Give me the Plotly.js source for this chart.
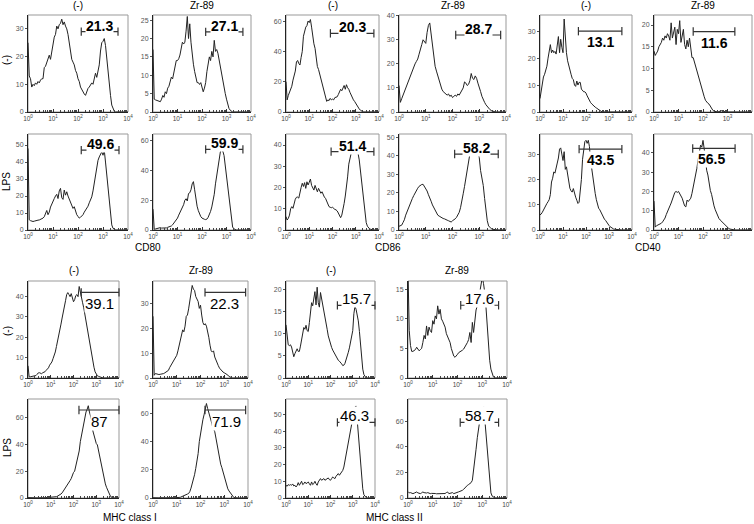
<!DOCTYPE html>
<html><head><meta charset="utf-8">
<script src="https://cdn.plot.ly/plotly-3.0.1.min.js"></script>
<style>html,body{margin:0;padding:0;background:#fff;}#chart{width:754px;height:524px;}</style>
</head><body><div id="chart"></div>
<script>
// ---------- histogram counts, one value per 0.05-decade channel from 10^0 to 10^4 ----------
const cd80_ctrl_neg = [25,13,12,9,10,9.5,10.5,10,11,10.5, 11.5,12,12,16,16.5,18,19,20.5,19,22, 24,27,28,31,30,31.5,32,33.5,31.5,32.5, 31,30,28,25,22,19,18,17,15,14, 12,11,9,8,7,6.5,6,7.5,8.5,9, 10,10.5,10,12,14,12.5,15,17,22,25, 25.5,26.5,24,19,15,11,6,2.5,1,0.3, 0,0,0,0,0,0,0,0,0,0, 0];
const cd80_ctrl_zr = [17,3.5,3.3,3.2,3,2.9,2.8,3.5,4.5,4, 5.5,5,6.5,7,8,9.5,9,11,13,14, 14,14.5,15.5,18,19,18.5,19,22,26,20, 24,19,15,13,11,9.5,8,8,7.5,8, 7,5.5,6.5,8,11,13,15,14,16.5,15, 19.5,16.5,17,16,14,12.5,11,9,7,5, 3.5,2,1,0.5,0.2,0,0,0,0,0, 0,0,0,0,0,0,0,0,0,0, 0];
const cd86_ctrl_neg = [20,8,11,13,15,17,21,24,27,33, 34,32,31,36,40,50,53,56,57,60, 59,61,56,50,45,42,35,30,28,25, 22,19,15,12,9,7,8,7.5,9,8, 8.5,8,9.5,10,10,11.5,13,15,14,16, 17.5,15,18,16,15,13,11,9.5,8,7, 5.5,4.5,3,2,1.2,0.5,0.2,0,0,0, 0,0,0,0,0,0,0,0,0,0, 0];
const cd86_ctrl_zr = [11,4,5.5,7,8.5,9.5,11,13,14,16, 17.5,19,20,21,22,24,26.5,28,30,29, 28.5,33,36,37,32,27,23,19,17,15, 13,11,9.5,8.5,8,7.5,7,7.5,6.5,7, 6,6.5,7,6.5,7.5,7,8,8.5,10,12.5, 12,11,11.5,13,16,14,13.5,15,14,12, 10.5,8.5,6.5,5,4,3,2.2,1.5,1,0.6, 0.3,0.1,0,0,0,0,0,0,0,0, 0];
const cd40_ctrl_neg = [5,8,11,13,14,15.5,17,20,23,25, 22,23,22,22.5,21.5,26,28,22,27,24, 22,34.5,26,22,19,17,16,14,12.5,12, 10,9.5,11.5,10,11,11,8.5,8,7.5,7.5, 7,6,5,4,3.5,3,2.5,2,1.8,1.5, 1.2,0.8,0.4,0.2,0,0,0,0,0,0, 0,0,0,0,0,0,0,0,0,0, 0,0,0,0,0,0,0,0,0,0, 0];
const cd40_ctrl_zr = [14,13,13.5,14,15,15.5,16,17,16.5,17.5, 17,18,17.5,16.5,20.5,17,18,19.5,15.5,19, 18,21,16,18,19,15.5,14.5,16.5,15,17, 15,12.5,12.5,11.5,10.5,9,8,7,6,5, 4.2,3.5,2.7,2.3,2,1.8,1.2,0.8,0.4,0.2, 0.1,0,0,0.1,0.2,0.3,0.2,0.1,0,0, 0,0,0,0,0,0,0,0,0,0, 0,0,0,0,0,0,0,0,0,0, 0];
const cd80_lps_neg = [48,6,5.5,5,5,5.2,5.5,5.4,5.8,5.9, 6.2,6.5,7,7.8,9.5,11.5,9,10.5,13.5,15.5, 17.5,18.5,20,21,18.5,23,24.5,19,18,23.5, 20.5,22.5,20,18,16,14,12.7,13.7,11,9, 8,7,7.5,8,9,10.5,11.5,12.7,14,16, 18,19.5,23,28,33,38,41,43,44.5,46, 44,47,40,33,25,16,8,3,1,0.4, 0.1,0,0,0,0,0,0,0,0,0, 0];
const cd80_lps_zr = [14,0.5,0.7,1,1.3,1.5,1.6,1.3,1.2,1.1, 1.2,1.4,1.8,2,2.3,2.7,3.5,4.5,5.5,6.7, 8,10,11.5,13.4,15,17,20,21,19.5,24.5, 25,27,31,32.5,27,20,16,13,10.5,9, 8,7.3,7.2,7,7.3,8.5,10,12.5,15.5,19, 24,31,37,42,47,52.5,53.5,53,50,43, 35,27,19,12,5.5,2,0.8,0.3,0,0, 0,0,0,0,0,0,0,0,0,0, 0];
const cd86_lps_neg = [6.3,4.7,5.5,7,10,11,10.2,13,14.5,15.4, 15.5,15,18.5,20,22,20.5,22.3,19.6,22.7,21.2, 22.5,24,21,20,18.8,21,19.5,18,19.6,18, 17.3,18,16.5,15.5,14.9,13.5,12.5,11,10.7,10.5, 10.7,10,9.7,9.5,9,8,7,5.8,7,9.4, 12.5,16,19.5,25,31,34,37,38.5,40,39, 40,38.5,36,33,28,22,17,12,7,3.5, 1.8,1,0.5,0.3,0.1,0,0,0,0,0, 0];
const cd86_lps_zr = [2,2.3,2.6,4,5.5,8,10,12,13.8,15, 17,18.5,20,21.5,22.5,23.5,24.2,24.5,24.6,23.5, 22.5,21,19,17.5,15.5,13.5,12,10.5,9,8, 7.5,7,6.5,6.2,6,5.5,5.3,5,4.6,4.3, 5,5.3,6,6.8,8,9.5,12,15,19.5,23.5, 28,32.5,37,41,43,44,41,43,44,42, 39,32,28,24,17,10,5,2.2,1.2,0.7, 0.4,0.2,0,0,0,0,0,0,0,0, 0];
const cd40_lps_neg = [6,6.3,7,8,9,9.8,10.5,11.2,12,14, 19,20.5,23,22.5,24,26.5,28.5,32,32.5,30, 27.5,31,24,25,22,20,16.5,15.5,15,16.4, 14,13,11.8,10.5,11,14.5,20,28,33,35, 35.5,34.3,35.5,33,27.5,23.7,20,16.5,14.5,12, 10,8.6,8,7,5.8,5,4.3,3.8,3,2.3, 1.8,1.3,0.9,0.6,0.4,0.3,0.2,0.1,0,0, 0,0,0,0,0,0,0,0,0,0, 0];
const cd40_lps_zr = [15,1.5,2.2,2.5,2.7,3,3.5,4.2,5,6.2, 8,9.8,11.5,12.5,14,16,18,19.5,20,19.5, 20,19,17.5,16.5,14.5,12.5,12,15.5,14.8,15.5, 16.5,19,22,25.5,28.5,32,36.5,40.5,44,43, 46.5,42,35,31,28.5,23,20.5,18.5,15,12.5, 10.5,9,7.2,6,5.2,4.5,3.8,3.2,2.6,1.8, 1.2,0.8,0.5,0.3,0.1,0,0,0,0,0, 0,0,0,0,0,0,0,0,0,0, 0];
const mhc1_ctrl_neg = [6,0.6,0.6,0.7,0.8,0.9,1,1.2,1.8,2.5, 2.6,2.3,2.1,2.6,2.8,3.1,3.8,4.2,5,6.3, 7.1,7.9,9.5,11,12.8,15.5,18,20.2,23,26.5, 29.5,33,35.5,38,41,42,41,40,41.5,39.2, 37.5,38.5,40.5,41,40,45,41.6,38.5,37,34.5, 31,27.5,24,20.5,17,13.8,11,8.3,5.3,3, 1.6,1.1,0.8,0.5,0.3,0.1,0,0,0,0, 0,0,0,0,0,0,0,0,0,0, 0];
const mhc1_ctrl_zr = [25,1.1,1.8,1.6,1.4,1.4,1.5,1.5,1.6,1.8, 2.1,2.4,2.8,3.1,4.2,5,6,6.7,7.5,8.5, 9.2,11,13,14.5,17.5,19.5,18.7,21,25,25.5, 28,32,35,37.5,36,35.5,33,32,31,28.2, 29.5,25.5,22.5,21.5,22,21,19,16.5,13.3,11, 10.5,11,8.5,7,6,5,4,3.3,2.8,2.4, 2.1,1.9,1.7,1.2,0.6,0.3,0.1,0,0,0, 0,0,0,0,0,0,0,0,0,0, 0];
const mhc2_ctrl_neg = [12,9.5,7.5,7.3,7.5,7,6,4.8,5.5,6.2, 6.6,6,6,7.2,8.5,10.5,11.4,11,11.9,10.7, 10.5,12.5,15.5,17,16.3,17.8,19.5,16.5,20.5,17, 16,19.3,18,17,15.5,13.7,12.5,11,9.5,8.5, 7.5,6.9,6.3,5.8,5.4,5,4.4,4,3.8,3.6, 3.2,2.8,2.9,3.3,4,5,5.8,6.8,8,9.2, 10.7,14.5,16.2,15.5,14.5,12.9,10.5,7,4.3,2, 0.8,0.2,0,0,0,0,0,0,0,0, 0];
const mhc2_ctrl_zr = [18,8,5.5,4.5,4.5,4.6,4.8,5.2,4.8,4.6, 4.8,5,6,7.2,6.6,8.8,7.2,8.6,8,7.7, 9.7,9.1,10.5,10,12.2,10.8,11.6,10,9.6,9.2, 8.6,7.5,7,6.4,6,5,4.2,3.7,3.5,3.7, 4,4.3,4.4,4.5,4.7,4.9,5.2,5.5,6,6.5, 7.7,6,9.4,7.7,10,11.5,12.2,12.3,14.5,16, 17,16,14.5,12,8.5,5.5,3,1.5,0.6,0.2, 0,0,0,0,0,0,0,0,0,0, 0];
const mhc1_lps_neg = [0.3,0.2,0.1,0.2,0.1,0.1,0.2,0.1,0.1,0.2, 0.1,0.2,0.1,0.2,0.1,0.2,0.3,0.2,0.3,0.3, 0.4,0.3,0.5,0.6,0.8,1,1.4,1.8,2.3,3, 3.8,5,6.8,8,9.2,10.5,11.8,13,14.5,17.5, 19,20,24,27.5,30.6,35,42,47,52,57, 61,64,66,68.7,64,61,58,50,46,42, 40.6,39.5,35,30.6,26,22,18.2,14,10.5,8, 5.8,3.7,2.2,0.8,0.3,0,0,0,0,0, 0];
const mhc1_lps_zr = [0.2,0.1,0.1,0.2,0.1,0.1,0.2,0.1,0.1,0.1, 0.2,0.1,0.2,0.1,0.2,0.2,0.1,0.2,0.3,0.2, 0.3,0.3,0.4,0.5,0.8,1.2,1.6,1.9,2.3,2.8, 3.2,4.5,7,10,12.6,16.5,21,26,31.5,40, 46,52,55.5,59,63,67,63.5,61,57.7,54.5, 51,49,47,42.5,37,32.7,27.5,24,21.5,18.5, 15,11.5,8.5,6.5,5,3.8,2.5,1,0.4,0.2, 0,0,0,0,0,0,0,0,0,0, 0];
const mhc2_lps_neg = [7.6,7,8,7.6,8,7.6,8.4,7.2,7.6,6.6, 7.5,9.2,7.6,8.5,10,8,8.5,9.6,8.6,9, 9.6,8.5,7.6,9.6,8,8.6,10,8.5,7.6,9.6, 10.5,11.6,10.6,11,11.6,10.6,11.2,11.5,12,11, 10.6,11.6,12.6,12,11.6,13,13.6,14.6,13.6,14.5, 15.2,16.5,18.5,22,26,29,31.6,35,39,44, 49,53,54.5,55,47,38,28,20,12,5.5, 2,0.8,0.3,0,0,0,0,0,0,0, 0];
const mhc2_lps_zr = [5,4,4.2,3.6,3.4,3.8,4.2,4.7,4,3.6, 3.4,4,4.7,4.2,3.8,3.9,4.2,3.6,3.4,3.6, 3.6,3.9,3.5,3.3,3.4,3.2,3.4,3.2,3.3,3.4, 3.5,4.2,4.7,3.4,3.6,4,4.2,3.4,3.6,3.9, 4.2,4.8,5.2,5.5,6,6.8,8,9,9.9,10.5, 11,12,13.8,21,30,38,47,55,62,67, 70,71,62,50,38,23,11,4,1.5,0.6, 0.2,0,0,0,0,0,0,0,0,0, 0];

// ---------- gates (log10 of fluorescence), gate percentages ----------
const gateLoLog  = [2.13,2.15,1.91,2.12,1.67,1.60, 2.13,2.15,1.94,2.08,1.70,1.58, 2.34,2.19,2.31,2.13, 2.24,2.19,2.31,2.11];
const gateHiLog  = [3.60,3.67,3.78,3.80,3.56,3.30, 3.64,3.67,3.78,3.71,3.56,3.31, 4.00,3.90,4.00,3.66, 4.00,3.90,4.00,3.66];
const gateLevel  = [29,21.8,51.9,32,30,18.5, 47,54.2,36.9,40.9,32,42.3, 42.1,34.7,16.4,12.3, 65.5,62.4,45.2,58.9];
const gatePct    = ['21.3','27.1','20.3','28.7','13.1','11.6', '49.6','59.9','51.4','58.2','43.5','56.5', '39.1','22.3','15.7','17.6', '87','71.9','46.3','58.7'];
const gateTextLog= [2.86,2.91,2.85,2.96,2.62,2.45, 2.88,2.91,2.86,2.90,2.62,2.36, 3.15,3.02,3.15,2.89, 3.15,3.09,3.06,2.90];
const gateSide   = ['a','a','a','a','b','b', 'a','a','a','a','b','b', 'b','b','a','a', 'b','b','a','a'];

// ---------- axis scales ----------
const yTop   = [35,26.4,64,40.3,36,22.3, 56.5,64.5,45.2,51.7,38,49.8, 47.7,39.3,21.9,16.4, 73.7,70.2,59.2,77.2];
const yDtick = [10,5,20,10,10,5, 10,20,10,10,10,10, 10,10,5,5, 20,20,10,20];
const decadeVals = [1,10,100,1000,10000];
const decadeText = ['10<sup>0</sup>','10<sup>1</sup>','10<sup>2</sup>','10<sup>3</sup>','10<sup>4</sup>'];

// ---------- text labels ----------
const colTitle = ['(-)','Zr-89'];
const rowTitles = ['(-)','LPS','(-)','LPS'];
const markerNames = ['CD80','CD86','CD40','MHC class I','MHC class II'];

const series = [cd80_ctrl_neg,cd80_ctrl_zr,cd86_ctrl_neg,cd86_ctrl_zr,cd40_ctrl_neg,cd40_ctrl_zr,
  cd80_lps_neg,cd80_lps_zr,cd86_lps_neg,cd86_lps_zr,cd40_lps_neg,cd40_lps_zr,
  mhc1_ctrl_neg,mhc1_ctrl_zr,mhc2_ctrl_neg,mhc2_ctrl_zr,
  mhc1_lps_neg,mhc1_lps_zr,mhc2_lps_neg,mhc2_lps_zr];

// ---------- layout geometry (pixels) ----------
const W = 754, H = 524;
const boxL = [28,153,286,399,540,654, 28,153,286,399,540,654, 28,153,286,408, 28,153,286,408];
const boxR = [128,251,379,506,632,752, 128,251,379,506,632,752, 119,248,375,507, 119,248,375,507];
const boxT = [15,15,15,15,15,15, 134,134,134,134,134,134, 281,281,281,281, 399,399,399,399];
const boxB = [112,112,112,112,112,112, 230,230,230,230,230,230, 378,378,378,378, 498,498,498,498];
const rowLabelY = [60,182,331,448];
const markerPos = [[148,247],[388,247],[648,247],[130,517],[394,517]];
const colTitleY = [6,270];

const channels = cd80_ctrl_neg.map((_, i) => Math.pow(10, i * 0.05));
const minorVals = [];
for (let d = 0; d < 4; d++) for (let m = 2; m <= 9; m++) minorVals.push(m * Math.pow(10, d));

const FONT = 'Liberation Sans, Arial, Helvetica, sans-serif';
const traces = [], annotations = [], shapes = [];
const layout = {
  width: W, height: H, margin: {l:0,r:0,t:0,b:0},
  paper_bgcolor: '#fff', plot_bgcolor: '#fff', showlegend: false,
  font: {family: FONT, color: '#000'}
};

series.forEach((ys, i) => {
  const n = i + 1, sfx = n === 1 ? '' : String(n);
  const xa = 'x' + sfx, ya = 'y' + sfx;
  layout['xaxis' + sfx] = {
    type: 'log', range: [0, 4], domain: [boxL[i]/W, boxR[i]/W], anchor: ya,
    tickmode: 'array', tickvals: decadeVals, ticktext: decadeText,
    ticks: 'inside', ticklen: 3, tickcolor: '#333', tickfont: {size: 6.5, color: '#444', family: FONT},
    showline: true, linecolor: '#222', linewidth: 1, showgrid: false, zeroline: false, fixedrange: true,
    minor: {tickmode: 'array', tickvals: minorVals, ticks: 'inside', ticklen: 2, tickcolor: '#444', showgrid: false}
  };
  layout['yaxis' + sfx] = {
    range: [0, yTop[i]], domain: [1 - boxB[i]/H, 1 - boxT[i]/H], anchor: xa,
    tick0: 0, dtick: yDtick[i], ticks: 'outside', ticklen: 2, tickcolor: '#555',
    tickfont: {size: 7, color: '#555', family: FONT},
    showline: true, linecolor: '#222', linewidth: 1, showgrid: false, zeroline: false, fixedrange: true
  };
  shapes.push({type: 'rect', xref: xa + ' domain', yref: ya + ' domain', x0: 0, x1: 1, y0: 0, y1: 1,
    line: {color: '#999', width: 1}, layer: 'below'});
  traces.push({type: 'scatter', mode: 'lines', x: channels, y: ys, xaxis: xa, yaxis: ya,
    line: {color: '#222', width: 1}, hoverinfo: 'skip'});
  traces.push({type: 'scatter', mode: 'lines+markers', xaxis: xa, yaxis: ya, cliponaxis: false,
    x: [Math.pow(10, gateLoLog[i]), Math.pow(10, gateHiLog[i])], y: [gateLevel[i], gateLevel[i]],
    line: {color: '#333', width: 1.2},
    marker: {symbol: 'line-ns-open', size: 6, line: {color: '#333', width: 1.2}}, hoverinfo: 'skip'});
  const above = gateSide[i] === 'a';
  const topBlock = i < 12;
  annotations.push({xref: xa, yref: ya, x: gateTextLog[i], y: gateLevel[i], text: gatePct[i],
    showarrow: false, xanchor: 'center', yanchor: above ? 'bottom' : 'top', yshift: above ? -3 : -2,
    bgcolor: '#fff', borderpad: 0,
    font: {size: topBlock ? 14 : 15, weight: topBlock ? 'bold' : 'normal', color: '#000', family: FONT}});
  if (i < 6 || (i >= 12 && i < 16)) {
    annotations.push({xref: 'paper', yref: 'paper', x: (boxL[i] + boxR[i]) / 2 / W,
      y: 1 - (i < 6 ? colTitleY[0] : colTitleY[1]) / H, text: colTitle[i % 2], showarrow: false,
      xanchor: 'center', yanchor: 'middle', font: {size: 10, color: '#000', family: FONT}});
  }
});

rowTitles.forEach((t, k) => {
  annotations.push({xref: 'paper', yref: 'paper', x: 7 / W, y: 1 - rowLabelY[k] / H, text: t,
    textangle: -90, showarrow: false, xanchor: 'center', yanchor: 'middle',
    font: {size: 10, color: '#000', family: FONT}});
});
markerNames.forEach((t, k) => {
  annotations.push({xref: 'paper', yref: 'paper', x: markerPos[k][0] / W, y: 1 - markerPos[k][1] / H,
    text: t, showarrow: false, xanchor: 'center', yanchor: 'middle',
    font: {size: 10, color: '#000', family: FONT}});
});

layout.annotations = annotations;
layout.shapes = shapes;
Plotly.newPlot('chart', traces, layout, {displayModeBar: false, staticPlot: true});
</script></body></html>
